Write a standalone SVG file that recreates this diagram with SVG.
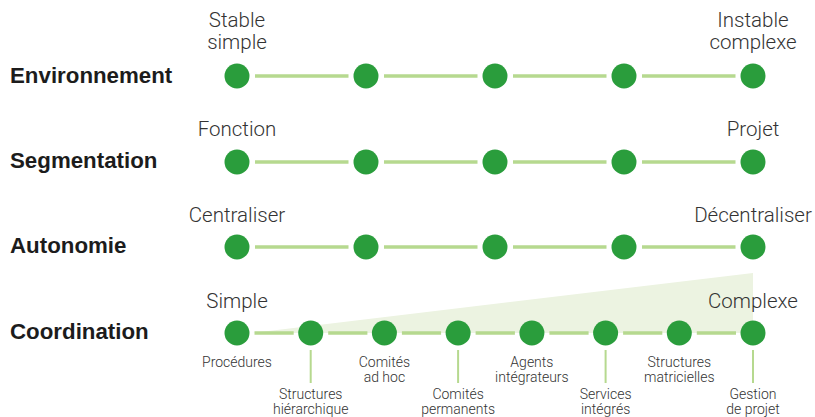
<svg xmlns="http://www.w3.org/2000/svg" width="815" height="417" viewBox="0 0 815 417">
  <style>
    .dot { fill: #2a9d3c; }
    .link { stroke: #b6d98f; stroke-width: 3.5; fill: none; }
    .tick { stroke: #b6d98f; stroke-width: 2; fill: none; }
    .axis { font-family: "Liberation Sans", Arial, sans-serif; font-weight: bold; font-size: 22.3px; fill: #1c1c1c; }
    .end { font-family: Roboto, "Liberation Sans", sans-serif; font-weight: 300; font-size: 20.5px; fill: #333333; text-anchor: middle; }
    .small { font-family: Roboto, "Liberation Sans", sans-serif; font-weight: 300; font-size: 14px; fill: #333333; text-anchor: middle; }
  </style>
  <rect width="815" height="417" fill="#ffffff"/>

  <!-- complexity wedge behind the coordination scale -->
  <polygon id="wedge" points="252,333 753,273 753,333" fill="#ecf3e1"/>

  <!-- row titles -->
  <g id="titles">
    <text class="axis" x="10" y="83">Environnement</text>
    <text class="axis" x="10" y="168">Segmentation</text>
    <text class="axis" x="10" y="253">Autonomie</text>
    <text class="axis" x="10" y="339">Coordination</text>
  </g>

  <!-- scale end labels -->
  <g id="scale-labels">
    <text class="end" x="237" y="27">Stable</text>
    <text class="end" x="237" y="49">simple</text>
    <text class="end" x="753" y="27">Instable</text>
    <text class="end" x="753" y="49">complexe</text>
    <text class="end" x="237" y="136">Fonction</text>
    <text class="end" x="753" y="136">Projet</text>
    <text class="end" x="237" y="222">Centraliser</text>
    <text class="end" x="753" y="222">Décentraliser</text>
    <text class="end" x="237" y="308">Simple</text>
    <text class="end" x="753" y="308">Complexe</text>
  </g>

  <!-- connectors -->
  <g id="connectors">
    <!-- Environnement -->
    <line class="link" x1="255" y1="76" x2="348.5" y2="76"/>
    <line class="link" x1="384" y1="76" x2="477.5" y2="76"/>
    <line class="link" x1="513" y1="76" x2="606.5" y2="76"/>
    <line class="link" x1="642" y1="76" x2="735.5" y2="76"/>
    <!-- Segmentation -->
    <line class="link" x1="255" y1="162" x2="348.5" y2="162"/>
    <line class="link" x1="384" y1="162" x2="477.5" y2="162"/>
    <line class="link" x1="513" y1="162" x2="606.5" y2="162"/>
    <line class="link" x1="642" y1="162" x2="735.5" y2="162"/>
    <!-- Autonomie -->
    <line class="link" x1="255" y1="247" x2="348.5" y2="247"/>
    <line class="link" x1="384" y1="247" x2="477.5" y2="247"/>
    <line class="link" x1="513" y1="247" x2="606.5" y2="247"/>
    <line class="link" x1="642" y1="247" x2="735.5" y2="247"/>
    <!-- Coordination -->
    <line class="link" x1="254.5" y1="333" x2="293.7" y2="333"/>
    <line class="link" x1="328.2" y1="333" x2="367.4" y2="333"/>
    <line class="link" x1="401.9" y1="333" x2="441.1" y2="333"/>
    <line class="link" x1="475.6" y1="333" x2="514.9" y2="333"/>
    <line class="link" x1="549.4" y1="333" x2="588.6" y2="333"/>
    <line class="link" x1="623.1" y1="333" x2="662.3" y2="333"/>
    <line class="link" x1="696.8" y1="333" x2="736" y2="333"/>
    <!-- label leaders -->
    <line class="tick" x1="310.7" y1="350" x2="310.7" y2="383"/>
    <line class="tick" x1="458.1" y1="350" x2="458.1" y2="383"/>
    <line class="tick" x1="605.6" y1="350" x2="605.6" y2="383"/>
    <line class="tick" x1="753" y1="350" x2="753" y2="383"/>
  </g>

  <!-- Environnement scale -->
  <g id="env-1"><circle class="dot" cx="237" cy="76" r="12.5"/></g>
  <g id="env-2"><circle class="dot" cx="366" cy="76" r="12.5"/></g>
  <g id="env-3"><circle class="dot" cx="495" cy="76" r="12.5"/></g>
  <g id="env-4"><circle class="dot" cx="624" cy="76" r="12.5"/></g>
  <g id="env-5"><circle class="dot" cx="753" cy="76" r="12.5"/></g>

  <!-- Segmentation scale -->
  <g id="seg-1"><circle class="dot" cx="237" cy="162" r="12.5"/></g>
  <g id="seg-2"><circle class="dot" cx="366" cy="162" r="12.5"/></g>
  <g id="seg-3"><circle class="dot" cx="495" cy="162" r="12.5"/></g>
  <g id="seg-4"><circle class="dot" cx="624" cy="162" r="12.5"/></g>
  <g id="seg-5"><circle class="dot" cx="753" cy="162" r="12.5"/></g>

  <!-- Autonomie scale -->
  <g id="aut-1"><circle class="dot" cx="237" cy="247" r="12.5"/></g>
  <g id="aut-2"><circle class="dot" cx="366" cy="247" r="12.5"/></g>
  <g id="aut-3"><circle class="dot" cx="495" cy="247" r="12.5"/></g>
  <g id="aut-4"><circle class="dot" cx="624" cy="247" r="12.5"/></g>
  <g id="aut-5"><circle class="dot" cx="753" cy="247" r="12.5"/></g>

  <!-- Coordination scale -->
  <g id="coord-procedures">
    <circle class="dot" cx="237" cy="333" r="12.5"/>
    <text class="small" x="237" y="367">Procédures</text>
  </g>
  <g id="coord-hierarchique">
    <circle class="dot" cx="310.7" cy="333" r="12.5"/>
    <text class="small" x="310.7" y="399">Structures</text>
    <text class="small" x="310.7" y="414">hiérarchique</text>
  </g>
  <g id="coord-adhoc">
    <circle class="dot" cx="384.4" cy="333" r="12.5"/>
    <text class="small" x="384.4" y="367">Comités</text>
    <text class="small" x="384.4" y="382">ad hoc</text>
  </g>
  <g id="coord-permanents">
    <circle class="dot" cx="458.1" cy="333" r="12.5"/>
    <text class="small" x="458.1" y="399">Comités</text>
    <text class="small" x="458.1" y="414">permanents</text>
  </g>
  <g id="coord-agents">
    <circle class="dot" cx="531.9" cy="333" r="12.5"/>
    <text class="small" x="531.9" y="367">Agents</text>
    <text class="small" x="531.9" y="382">intégrateurs</text>
  </g>
  <g id="coord-services">
    <circle class="dot" cx="605.6" cy="333" r="12.5"/>
    <text class="small" x="605.6" y="399">Services</text>
    <text class="small" x="605.6" y="414">intégrés</text>
  </g>
  <g id="coord-matricielles">
    <circle class="dot" cx="679.3" cy="333" r="12.5"/>
    <text class="small" x="679.3" y="367">Structures</text>
    <text class="small" x="679.3" y="382">matricielles</text>
  </g>
  <g id="coord-projet">
    <circle class="dot" cx="753" cy="333" r="12.5"/>
    <text class="small" x="753" y="399">Gestion</text>
    <text class="small" x="753" y="414">de projet</text>
  </g>
</svg>
